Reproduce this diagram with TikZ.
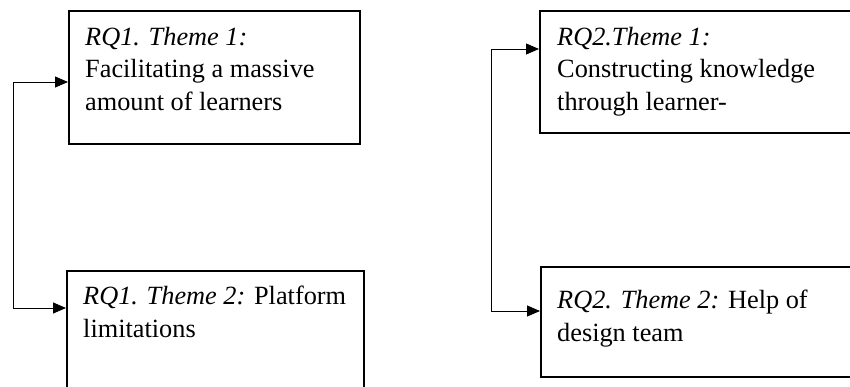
\documentclass[tikz,border=0pt]{standalone}
\usepackage{fontspec}
\setmainfont{Liberation Serif}
\usetikzlibrary{arrows.meta}
\begin{document}
\begin{tikzpicture}[x=1pt,y=-1pt,
  box/.style={draw, line width=1.8pt, rectangle, anchor=north west, inner sep=0pt},
  txt/.style={anchor=north west, inner sep=0pt, align=left, font=\fontsize{26.3}{32.5}\selectfont},
  conn/.style={line width=0.9pt},
  arr/.style={conn, -{Triangle[length=13pt,width=11pt]}}]
\useasboundingbox (0,0) rectangle (850,387);
\clip (0,0) rectangle (850,387);
\fill[white] (0,0) rectangle (850,387);
% boxes
\node[box, minimum width=291pt, minimum height=133pt] (b1) at (68,10) {};
\node[box, minimum width=297pt, minimum height=160pt] (b2) at (66,270) {};
\node[box, minimum width=340pt, minimum height=122pt] (b3) at (539,10) {};
\node[box, minimum width=340pt, minimum height=110pt] (b4) at (540,266) {};
% texts
\node[txt] (t1) at (85,27) {\textit{RQ1. Theme 1:}\\Facilitating a massive\\amount of learners};
\node[txt] (t2) at (83,286) {\textit{RQ1. Theme 2:} Platform\\limitations};
\node[txt] (t3) at (557,27) {\textit{RQ2.Theme 1:}\\Constructing knowledge\\through learner-};
\node[txt] (t4) at (557,290) {\textit{RQ2. Theme 2:} Help of\\design team};
% connectors
\coordinate (l1) at (13,82);
\coordinate (l2) at (13,308);
\coordinate (r1) at (491,49);
\coordinate (r2) at (491,311);
\draw[arr] (l2) -- (l1) -- (l1 -| b1.west);
\draw[arr] (l2) -- (l2 -| b2.west);
\draw[arr] (r2) -- (r1) -- (r1 -| b3.west);
\draw[arr] (r2) -- (r2 -| b4.west);
\end{tikzpicture}
\end{document}
